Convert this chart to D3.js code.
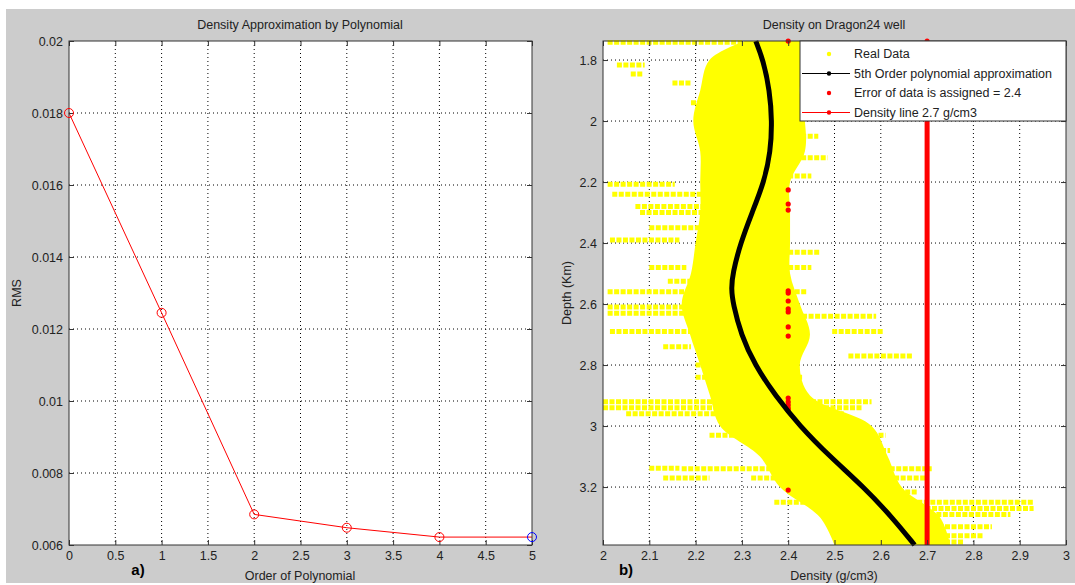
<!DOCTYPE html>
<html>
<head>
<meta charset="utf-8">
<script src="https://cdn.jsdelivr.net/npm/d3@7"></script>
<style>
  body { margin: 0; background: #fff; }
  svg { display: block; font-family: "Liberation Sans", Arial, sans-serif; }
</style>
</head>
<body>
<svg width="1075" height="585"></svg>
<script>
// ---- panel a) RMS against polynomial order
const orders = [0, 1, 2, 3, 4, 5];
const rmsValues = [0.0180, 0.01245, 0.00685, 0.00648, 0.00622, 0.00622];
const orderTicks = [0, 0.5, 1, 1.5, 2, 2.5, 3, 3.5, 4, 4.5, 5];
const rmsTicks = [0.006, 0.008, 0.01, 0.012, 0.014, 0.016, 0.018, 0.02];

// ---- panel b) density log on Dragon24 well
const densityTicks = [2, 2.1, 2.2, 2.3, 2.4, 2.5, 2.6, 2.7, 2.8, 2.9, 3];
const depthTicks = [1.8, 2, 2.2, 2.4, 2.6, 2.8, 3, 3.2];

// 5th order polynomial fit
const polyDepth = [1.738, 1.80, 1.90, 2.00, 2.10, 2.20, 2.30, 2.40, 2.50, 2.55, 2.60, 2.70, 2.80, 2.90, 3.00, 3.10, 3.20, 3.30, 3.39];
const polyDensity = [2.330, 2.346, 2.360, 2.365, 2.362, 2.348, 2.322, 2.297, 2.280, 2.277, 2.281, 2.298, 2.328, 2.372, 2.425, 2.490, 2.563, 2.625, 2.673];

// dense part of the real data cloud: left and right edge per depth
const coreDepth = [1.738, 1.80, 1.90, 2.00, 2.10, 2.20, 2.30, 2.40, 2.50, 2.60, 2.70, 2.80, 2.90, 3.00, 3.10, 3.20, 3.30, 3.39];
const coreLeft = [2.307, 2.23, 2.21, 2.195, 2.21, 2.21, 2.21, 2.20, 2.19, 2.17, 2.188, 2.21, 2.231, 2.253, 2.339, 2.382, 2.469, 2.50];
const coreRight = [2.425, 2.436, 2.425, 2.436, 2.436, 2.404, 2.404, 2.404, 2.404, 2.425, 2.447, 2.425, 2.447, 2.58, 2.615, 2.645, 2.728, 2.75];

// horizontal runs of real data outside the dense part: [depth, from, to]
const streaks = [
  [1.742, 2.01, 2.30], [1.816, 2.03, 2.09], [1.846, 2.06, 2.085], [1.875, 2.15, 2.19],
  [1.94, 2.19, 2.30], [2.05, 2.40, 2.465], [2.065, 2.25, 2.31], [2.12, 2.40, 2.485],
  [2.18, 2.40, 2.45], [2.207, 2.01, 2.155], [2.24, 2.02, 2.216], [2.28, 2.07, 2.30],
  [2.30, 2.08, 2.30], [2.35, 2.10, 2.22], [2.39, 2.015, 2.165], [2.43, 2.40, 2.47],
  [2.48, 2.10, 2.18], [2.48, 2.40, 2.45], [2.525, 2.14, 2.22], [2.56, 2.01, 2.216],
  [2.56, 2.40, 2.44], [2.61, 2.01, 2.27], [2.63, 2.01, 2.27], [2.64, 2.43, 2.59],
  [2.69, 2.015, 2.19], [2.69, 2.495, 2.605], [2.74, 2.13, 2.19], [2.77, 2.53, 2.67],
  [2.80, 2.20, 2.31], [2.84, 2.20, 2.43], [2.92, 2.0, 2.58], [2.94, 2.0, 2.56],
  [2.96, 2.05, 2.52], [3.03, 2.23, 2.61], [3.08, 2.39, 2.62], [3.138, 2.10, 2.165],
  [3.14, 2.17, 2.71], [3.17, 2.13, 2.23], [3.17, 2.32, 2.70], [3.216, 2.40, 2.68],
  [3.25, 2.37, 2.93], [3.27, 2.50, 2.93], [3.29, 2.72, 2.88], [3.33, 2.50, 2.84],
  [3.36, 2.50, 2.82], [3.38, 2.50, 2.78]
];

// samples where the error value 2.4 was assigned
const errorDepths = [1.738, 2.226, 2.272, 2.292, 2.557, 2.564, 2.59, 2.616, 2.626, 2.675, 2.705,
  2.908, 2.921, 2.931, 2.941, 2.948, 3.21];
const errorDensity = 2.4;
const refDensity = 2.7;

const legendLabels = ["Real Data", "5th Order polynomial approximation", "Error of data is assigned = 2.4", "Density line 2.7 g/cm3"];

const svg = d3.select("svg");

// figure background
svg.append("rect").attr("x", 6).attr("y", 9).attr("width", 1069).attr("height", 574).attr("fill", "#cccccc");

const fmt = d => String(+d.toFixed(4));

function frame(g, x, y, xTicks, yTicks) {
  const [x0, x1] = x.range(), [y0, y1] = [d3.min(y.range()), d3.max(y.range())];
  g.append("rect").attr("x", x0).attr("y", y0).attr("width", x1 - x0).attr("height", y1 - y0).attr("fill", "#fff");
  // dotted grid
  g.selectAll(".gx").data(xTicks.slice(1, -1)).enter().append("line")
    .attr("x1", d => x(d)).attr("x2", d => x(d)).attr("y1", y0).attr("y2", y1)
    .attr("stroke", "#000").attr("stroke-dasharray", "1,3");
  g.selectAll(".gy").data(yTicks.filter(d => y(d) > y0 + 1 && y(d) < y1 - 1)).enter().append("line")
    .attr("y1", d => y(d)).attr("y2", d => y(d)).attr("x1", x0).attr("x2", x1)
    .attr("stroke", "#000").attr("stroke-dasharray", "1,3");
}

function axes(g, x, y, xTicks, yTicks) {
  const [x0, x1] = x.range(), [y0, y1] = [d3.min(y.range()), d3.max(y.range())];
  const style = sel => {
    sel.select(".domain").remove();
    sel.selectAll("line").attr("stroke", "#333");
    sel.selectAll("text").attr("font-size", 12.5).attr("fill", "#222").attr("font-family", "Liberation Sans, Arial, sans-serif");
  };
  g.append("g").attr("transform", `translate(0,${y1})`)
    .call(d3.axisBottom(x).tickValues(xTicks).tickFormat(fmt).tickSize(-5).tickPadding(6)).call(style);
  g.append("g").attr("transform", `translate(0,${y0})`)
    .call(d3.axisTop(x).tickValues(xTicks).tickFormat("").tickSize(-5)).call(style);
  g.append("g").attr("transform", `translate(${x0},0)`)
    .call(d3.axisLeft(y).tickValues(yTicks).tickFormat(fmt).tickSize(-5).tickPadding(6)).call(style);
  g.append("g").attr("transform", `translate(${x1},0)`)
    .call(d3.axisRight(y).tickValues(yTicks).tickFormat("").tickSize(-5)).call(style);
  g.append("rect").attr("x", x0).attr("y", y0).attr("width", x1 - x0).attr("height", y1 - y0)
    .attr("fill", "none").attr("stroke", "#333");
}

function label(text, x, y, opts = {}) {
  const t = svg.append("text").attr("x", x).attr("y", y).attr("text-anchor", "middle")
    .attr("font-size", opts.size || 12.5).attr("fill", "#222").text(text);
  if (opts.rotate) t.attr("transform", `rotate(-90,${x},${y})`);
  if (opts.bold) t.attr("font-weight", "bold").attr("fill", "#000");
  return t;
}

// ---------------- panel a)
const xa = d3.scaleLinear().domain([0, 5]).range([69, 532]);
const ya = d3.scaleLinear().domain([0.006, 0.02]).range([545, 41]);
const ga = svg.append("g");
frame(ga, xa, ya, orderTicks, rmsTicks);

ga.append("path")
  .datum(orders.map((o, i) => [o, rmsValues[i]]))
  .attr("fill", "none").attr("stroke", "#ff0000").attr("stroke-width", 1)
  .attr("d", d3.line().x(d => xa(d[0])).y(d => ya(d[1])));

axes(ga, xa, ya, orderTicks, rmsTicks);

ga.selectAll(".pt").data(orders).enter().append("circle")
  .attr("cx", d => xa(d)).attr("cy", (d, i) => ya(rmsValues[i])).attr("r", 4.5)
  .attr("fill", "none").attr("stroke", (d, i) => i === orders.length - 1 ? "#0000ff" : "#ff0000");

label("Density Approximation by Polynomial", 300, 29);
label("Order of Polynomial", 300, 580);
label("RMS", 21, 293, { rotate: true });
label("a)", 138, 575, { bold: true, size: 15 });

// ---------------- panel b)
const xb = d3.scaleLinear().domain([2, 3]).range([603, 1066]);
const yb = d3.scaleLinear().domain([1.7376, 3.39]).range([41, 545]);
const gb = svg.append("g");
frame(gb, xb, yb, densityTicks, depthTicks);

svg.append("clipPath").attr("id", "clipb").append("rect")
  .attr("x", 603).attr("y", 40).attr("width", 463).attr("height", 506);
const cloud = gb.append("g").attr("clip-path", "url(#clipb)");

cloud.append("path")
  .datum(coreDepth.map((d, i) => [d, coreLeft[i], coreRight[i]]))
  .attr("fill", "#ffff00")
  .attr("d", d3.area().curve(d3.curveCatmullRom)
    .y(d => yb(d[0])).x0(d => xb(d[1])).x1(d => xb(d[2])));

cloud.selectAll(".streak").data(streaks).enter().append("line")
  .attr("x1", d => xb(d[1])).attr("x2", d => xb(d[2]))
  .attr("y1", d => yb(d[0])).attr("y2", d => yb(d[0]))
  .attr("stroke", "#ffff00").attr("stroke-width", 5)
  .attr("stroke-dasharray", "5,1.5");

// error samples at 2.4
gb.selectAll(".err").data(errorDepths).enter().append("circle")
  .attr("cx", xb(errorDensity)).attr("cy", d => yb(d)).attr("r", 2.6).attr("fill", "#ff0000");

// density line 2.7
gb.append("line").attr("x1", xb(refDensity)).attr("x2", xb(refDensity))
  .attr("y1", yb(1.7376)).attr("y2", yb(3.39))
  .attr("stroke", "#ff0000").attr("stroke-width", 5);
gb.append("circle").attr("cx", xb(refDensity)).attr("cy", yb(1.7376)).attr("r", 2.5).attr("fill", "#ff0000");

// polynomial approximation
gb.append("path")
  .datum(polyDepth.map((d, i) => [d, polyDensity[i]]))
  .attr("fill", "none").attr("stroke", "#000").attr("stroke-width", 5)
  .attr("d", d3.line().curve(d3.curveBasis).y(d => yb(d[0])).x(d => xb(d[1])));

axes(gb, xb, yb, densityTicks, depthTicks);

label("Density on Dragon24 well", 834, 29);
label("Density (g/cm3)", 834, 580);
label("Depth (Km)", 571, 293, { rotate: true });
label("b)", 626, 575, { bold: true, size: 15 });

// legend
const lg = svg.append("g").attr("transform", "translate(800,41)");
lg.append("rect").attr("width", 266).attr("height", 80).attr("fill", "#fff").attr("stroke", "#333");
const rows = lg.selectAll(".row").data(legendLabels).enter().append("g")
  .attr("transform", (d, i) => `translate(0,${13 + i * 19.5})`);
rows.filter((d, i) => i === 1 || i === 3).append("line")
  .attr("x1", 2).attr("x2", 50).attr("stroke", (d, i) => i === 0 ? "#000" : "#ff0000");
rows.append("circle").attr("cx", 29).attr("r", 2.2)
  .attr("fill", (d, i) => ["#ffff00", "#000", "#ff0000", "#ff0000"][i]);
rows.append("text").attr("x", 54).attr("dy", "0.35em").attr("font-size", 12.5).attr("fill", "#222").text(d => d);
</script>
</body>
</html>
